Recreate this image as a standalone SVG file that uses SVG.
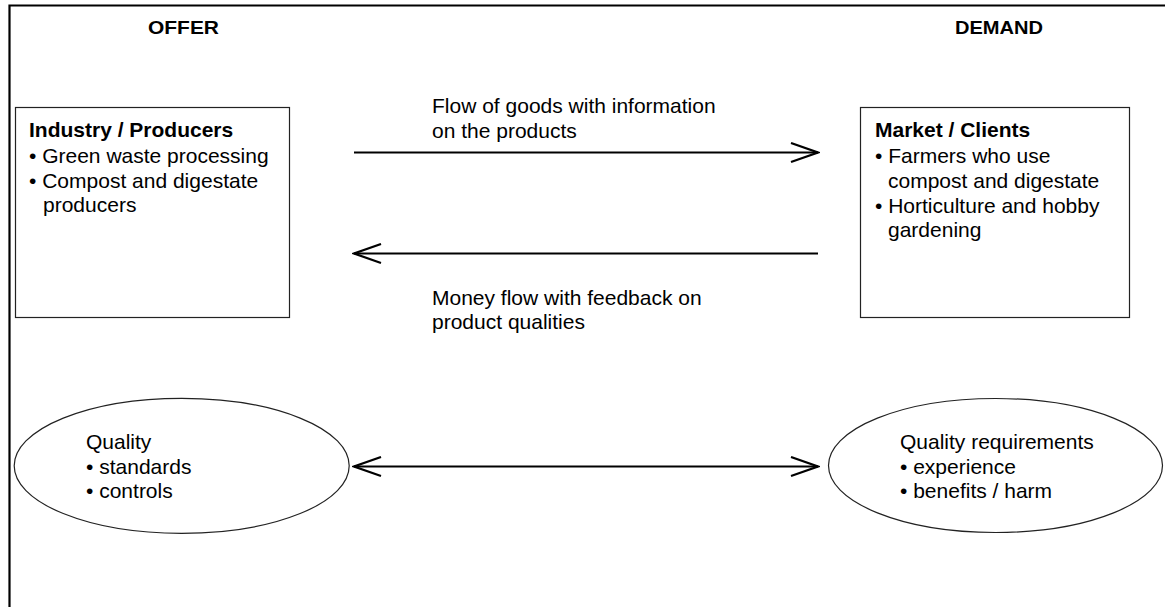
<svg xmlns="http://www.w3.org/2000/svg" width="1165" height="607" viewBox="0 0 1165 607">
  <style>
    text { font-family: "Liberation Sans", Arial, sans-serif; fill: #000; }
    .head { font-size: 18px; font-weight: bold; }
    .title { font-size: 21px; font-weight: bold; }
    .body { font-size: 21px; }
    .box { fill: #fff; stroke: #222; stroke-width: 1.2; }
    .flow { fill: none; stroke: #000; stroke-width: 2; }
    .frame { fill: none; stroke: #000; stroke-width: 2.2; }
  </style>
  <defs>
    <marker id="open-arrow" viewBox="0 0 30 22" refX="28" refY="11" markerWidth="30" markerHeight="22" markerUnits="userSpaceOnUse" orient="auto-start-reverse">
      <path d="M 1 1.5 L 28 11 L 1 20.5" fill="none" stroke="#000" stroke-width="2.2"/>
    </marker>
  </defs>

  <!-- frame -->
  <path class="frame" d="M 9.5 607 L 9.5 5.5 L 1165 5.5"/>

  <!-- column headings -->
  <text class="head" x="183.5" y="34" text-anchor="middle" textLength="71" lengthAdjust="spacingAndGlyphs">OFFER</text>
  <text class="head" x="999" y="34" text-anchor="middle" textLength="88" lengthAdjust="spacingAndGlyphs">DEMAND</text>

  <!-- supply side -->
  <g id="producers">
    <rect class="box" x="15.5" y="107.5" width="274" height="210"/>
    <text class="title" x="29" y="137">Industry / Producers</text>
    <text class="body" x="29" y="163">• Green waste processing</text>
    <text class="body" x="29" y="188">• Compost and digestate</text>
    <text class="body" x="43" y="212">producers</text>
  </g>

  <!-- demand side -->
  <g id="clients">
    <rect class="box" x="860.5" y="107.5" width="269" height="210"/>
    <text class="title" x="875" y="137">Market / Clients</text>
    <text class="body" x="875" y="163">• Farmers who use</text>
    <text class="body" x="888" y="188">compost and digestate</text>
    <text class="body" x="875" y="213">• Horticulture and hobby</text>
    <text class="body" x="888" y="237">gardening</text>
  </g>

  <g id="quality">
    <ellipse class="box" cx="181.7" cy="465.8" rx="167.5" ry="67.5"/>
    <text class="body" x="86" y="449">Quality</text>
    <text class="body" x="86" y="474">• standards</text>
    <text class="body" x="86" y="498">• controls</text>
  </g>

  <g id="requirements">
    <ellipse class="box" cx="995.5" cy="465.5" rx="167" ry="67"/>
    <text class="body" x="900" y="449">Quality requirements</text>
    <text class="body" x="900" y="474">• experience</text>
    <text class="body" x="900" y="498">• benefits / harm</text>
  </g>

  <!-- flows between the two sides -->
  <g id="connectors">
    <line class="flow" x1="354" y1="152.5" x2="818" y2="152.5" marker-end="url(#open-arrow)"/>
    <line class="flow" x1="818" y1="253.5" x2="354" y2="253.5" marker-end="url(#open-arrow)"/>
    <line class="flow" x1="354" y1="466.5" x2="818" y2="466.5" marker-start="url(#open-arrow)" marker-end="url(#open-arrow)"/>
    <text class="body" x="432" y="113">Flow of goods with information</text>
    <text class="body" x="432" y="138">on the products</text>
    <text class="body" x="432" y="305">Money flow with feedback on</text>
    <text class="body" x="432" y="329">product qualities</text>
  </g>
</svg>
